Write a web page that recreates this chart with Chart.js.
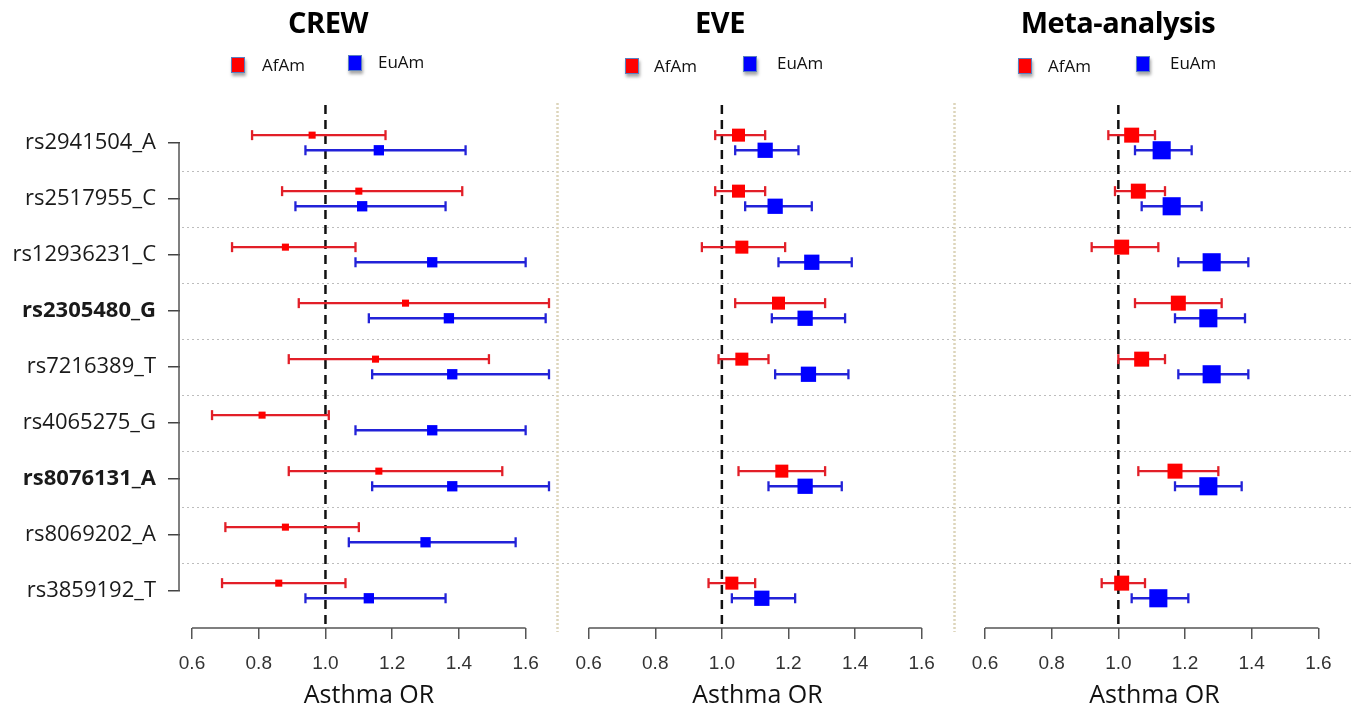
<!DOCTYPE html>
<html>
<head>
<meta charset="utf-8">
<title>Asthma OR forest plots</title>
<script src="https://cdn.jsdelivr.net/npm/chart.js@4.4.1/dist/chart.umd.min.js"></script>
<style>
    body { margin: 0; width: 1352px; height: 713px; position: relative; overflow: hidden; background: #fff;
           font-family: 'Open Sans', 'Noto Sans', sans-serif; color: #111; }
    canvas { position: absolute; top: 0; }
    .title { position: absolute; top: 2px; width: 300px; text-align: center; font-size: 29px; font-weight: bold;
             line-height: 40px; color: #000; letter-spacing: -0.5px; }
    .key { position: absolute; font-size: 17px; line-height: 22px; white-space: nowrap; }
    .key i { position: absolute; width: 12px; height: 14px; border: 1.5px solid #5b7fbf;
             box-shadow: 1px 3px 3px rgba(0, 0, 0, 0.35); }
</style>
</head>
<body>
<canvas id="crewChart" width="560" height="713" style="left:0px"></canvas>
<canvas id="eveChart" width="397" height="713" style="left:560px"></canvas>
<canvas id="metaChart" width="395" height="713" style="left:957px"></canvas>

<div class="title" style="left:178px">CREW</div>
<div class="title" style="left:570px">EVE</div>
<div class="title" style="left:968px">Meta-analysis</div>

<div class="key" style="left:231px;top:54px"><i style="left:0;top:3px;background:#ff0000"></i><span style="margin-left:31px">AfAm</span></div>
<div class="key" style="left:348px;top:51px"><i style="left:0;top:4px;background:#0000ff"></i><span style="margin-left:30px">EuAm</span></div>
<div class="key" style="left:625px;top:55px"><i style="left:0;top:3px;background:#ff0000"></i><span style="margin-left:29px">AfAm</span></div>
<div class="key" style="left:743px;top:52px"><i style="left:0;top:4px;background:#0000ff"></i><span style="margin-left:34px">EuAm</span></div>
<div class="key" style="left:1018px;top:55px"><i style="left:0;top:3px;background:#ff0000"></i><span style="margin-left:30px">AfAm</span></div>
<div class="key" style="left:1136px;top:52px"><i style="left:0;top:4px;background:#0000ff"></i><span style="margin-left:34px">EuAm</span></div>

<script>
document.addEventListener('DOMContentLoaded', function () {
    // SNPs, top to bottom; the two in bold are highlighted in the figure
    const snps = ['rs2941504_A', 'rs2517955_C', 'rs12936231_C', 'rs2305480_G', 'rs7216389_T',
                  'rs4065275_G', 'rs8076131_A', 'rs8069202_A', 'rs3859192_T'];
    const boldSnps = ['rs2305480_G', 'rs8076131_A'];
    const xTicks = [0.6, 0.8, 1.0, 1.2, 1.4, 1.6];
    const nullOR = 1.0;

    // CREW: odds ratio with lower / upper CI
    const crewAfAmOR = [0.96, 1.10, 0.88, 1.24, 1.15, 0.81, 1.16, 0.88, 0.86];
    const crewAfAmLo = [0.78, 0.87, 0.72, 0.92, 0.89, 0.66, 0.89, 0.70, 0.69];
    const crewAfAmHi = [1.18, 1.41, 1.09, 1.67, 1.49, 1.01, 1.53, 1.10, 1.06];
    const crewEuAmOR = [1.16, 1.11, 1.32, 1.37, 1.38, 1.32, 1.38, 1.30, 1.13];
    const crewEuAmLo = [0.94, 0.91, 1.09, 1.13, 1.14, 1.09, 1.14, 1.07, 0.94];
    const crewEuAmHi = [1.42, 1.36, 1.60, 1.66, 1.67, 1.60, 1.67, 1.57, 1.36];

    // EVE (two SNPs not available)
    const eveAfAmOR = [1.05, 1.05, 1.06, 1.17, 1.06, null, 1.18, null, 1.03];
    const eveAfAmLo = [0.98, 0.98, 0.94, 1.04, 0.99, null, 1.05, null, 0.96];
    const eveAfAmHi = [1.13, 1.13, 1.19, 1.31, 1.14, null, 1.31, null, 1.10];
    const eveEuAmOR = [1.13, 1.16, 1.27, 1.25, 1.26, null, 1.25, null, 1.12];
    const eveEuAmLo = [1.04, 1.07, 1.17, 1.15, 1.16, null, 1.14, null, 1.03];
    const eveEuAmHi = [1.23, 1.27, 1.39, 1.37, 1.38, null, 1.36, null, 1.22];

    // Meta-analysis
    const metaAfAmOR = [1.04, 1.06, 1.01, 1.18, 1.07, null, 1.17, null, 1.01];
    const metaAfAmLo = [0.97, 0.99, 0.92, 1.05, 1.00, null, 1.06, null, 0.95];
    const metaAfAmHi = [1.11, 1.14, 1.12, 1.31, 1.14, null, 1.30, null, 1.08];
    const metaEuAmOR = [1.13, 1.16, 1.28, 1.27, 1.28, null, 1.27, null, 1.12];
    const metaEuAmLo = [1.05, 1.07, 1.18, 1.17, 1.18, null, 1.17, null, 1.04];
    const metaEuAmHi = [1.22, 1.25, 1.39, 1.38, 1.39, null, 1.37, null, 1.21];

    const afamColor = '#ff0000', afamLine = '#e21f28';
    const euamColor = '#0000ff', euamLine = '#2222d8';
    const afamShift = -0.14, euamShift = 0.13;   // rows offsets of the two groups

    const labelFont = "'Open Sans', 'Noto Sans', sans-serif";
    const tickFont = "'Liberation Sans', Arial, sans-serif";

    // dotted row separators, panel divider, dashed OR = 1 line, R-style axis lines
    const forestLines = {
        id: 'forestLines',
        beforeDatasetsDraw(chart, args, opts) {
            const { ctx, chartArea: a, scales: { x, y } } = chart;
            ctx.save();
            ctx.strokeStyle = '#bdbdbd';
            ctx.lineWidth = 1;
            ctx.setLineDash([2, 3]);
            for (let i = 0; i < snps.length - 1; i++) {
                const py = Math.round(y.getPixelForValue(i + 0.5)) + 0.5;
                ctx.beginPath();
                ctx.moveTo(a.left + 2, py);
                ctx.lineTo(a.right, py);
                ctx.stroke();
            }
            if (opts.divider) {
                ctx.strokeStyle = '#ddd5bb';
                ctx.lineWidth = 2.5;
                ctx.setLineDash([2, 2]);
                ctx.beginPath();
                ctx.moveTo(a.right - 0.5, a.top);
                ctx.lineTo(a.right - 0.5, a.bottom + 4);
                ctx.stroke();
            }
            const px = x.getPixelForValue(nullOR);
            ctx.strokeStyle = '#111';
            ctx.lineWidth = 2.5;
            ctx.setLineDash([9, 6]);
            ctx.beginPath();
            ctx.moveTo(px, a.top + 2);
            ctx.lineTo(px, a.bottom);
            ctx.stroke();
            ctx.restore();
        },
        afterDraw(chart, args, opts) {
            const { ctx, chartArea: a, scales: { x, y } } = chart;
            ctx.save();
            ctx.strokeStyle = '#555';
            ctx.lineWidth = 1.5;
            ctx.beginPath();
            ctx.moveTo(x.getPixelForValue(xTicks[0]), a.bottom);
            ctx.lineTo(x.getPixelForValue(xTicks[xTicks.length - 1]), a.bottom);
            ctx.stroke();
            if (opts.yAxis) {
                ctx.beginPath();
                ctx.moveTo(a.left - 1, y.getPixelForValue(0));
                ctx.lineTo(a.left - 1, y.getPixelForValue(snps.length - 1));
                ctx.stroke();
            }
            ctx.restore();
        }
    };

    function markers(label, ors, shift, color, radius) {
        const pts = [];
        ors.forEach((v, i) => { if (v !== null) pts.push({ x: v, y: i + shift }); });
        return {
            label: label, data: pts, order: 0,
            pointStyle: 'rect', pointRadius: radius,
            backgroundColor: color, borderColor: color, borderWidth: 0
        };
    }

    function whiskers(lo, hi, shift, color) {
        const sets = [];
        lo.forEach((v, i) => {
            if (v === null) return;
            sets.push({
                data: [{ x: v, y: i + shift }, { x: hi[i], y: i + shift }],
                showLine: true, order: 1,
                borderColor: color, borderWidth: 2.3,
                pointStyle: 'line', rotation: 90, pointRadius: 5,
                pointBorderColor: color, pointBorderWidth: 2.3
            });
        });
        return sets;
    }

    function snpFont(ctx) {
        const bold = ctx && ctx.tick && boldSnps.includes(snps[ctx.tick.value]);
        return { family: labelFont, size: 22, weight: bold ? 'bold' : 'normal' };
    }

    function makePanel(id, afOR, afLo, afHi, euOR, euLo, euHi, xMin, xMax, afSize, euSize, first) {
        const datasets = [
            markers('AfAm', afOR, afamShift, afamColor, afSize),
            markers('EuAm', euOR, euamShift, euamColor, euSize)
        ].concat(whiskers(afLo, afHi, afamShift, afamLine), whiskers(euLo, euHi, euamShift, euamLine));

        return new Chart(document.getElementById(id).getContext('2d'), {
            type: 'scatter',
            data: { datasets: datasets },
            options: {
                responsive: false,
                animation: false,
                events: [],
                layout: {
                    autoPadding: false,
                    padding: { top: 103, right: id === 'metaChart' ? 0 : 2, left: 0, bottom: 0 }
                },
                plugins: {
                    legend: { display: false },
                    tooltip: { enabled: false },
                    forestLines: { divider: id !== 'metaChart', yAxis: first }
                },
                scales: {
                    x: {
                        type: 'linear', min: xMin, max: xMax,
                        afterBuildTicks: scale => { scale.ticks = xTicks.map(v => ({ value: v })); },
                        afterFit: scale => {
                            scale.height = 85;
                            scale.paddingLeft = 0;
                            scale.paddingRight = 0;
                        },
                        border: { display: false },
                        grid: { drawOnChartArea: false, drawTicks: true, tickLength: 11, color: '#555', lineWidth: 1.5 },
                        ticks: {
                            callback: v => v.toFixed(1),
                            autoSkip: false, maxRotation: 0, padding: 13,
                            color: '#333', font: { family: tickFont, size: 19 }
                        },
                        title: {
                            display: true, text: 'Asthma OR', color: '#111',
                            font: { family: labelFont, size: 25 }, padding: { top: 0, bottom: 2 }
                        }
                    },
                    y: {
                        type: 'linear', reverse: true, min: -0.714, max: 8.661,
                        display: first,
                        afterBuildTicks: scale => { scale.ticks = snps.map((s, i) => ({ value: i })); },
                        afterFit: scale => {
                            scale.width = first ? 180 : 0;
                            scale.paddingTop = 0;
                            scale.paddingBottom = 0;
                        },
                        border: { display: false },
                        grid: { drawOnChartArea: false, drawTicks: true, tickLength: 12, color: '#444', lineWidth: 1.5 },
                        ticks: {
                            callback: v => snps[v],
                            autoSkip: false, padding: 12, color: '#1a1a1a',
                            font: snpFont
                        }
                    }
                }
            },
            plugins: [forestLines]
        });
    }

    makePanel('crewChart', crewAfAmOR, crewAfAmLo, crewAfAmHi, crewEuAmOR, crewEuAmLo, crewEuAmHi,
              0.564, 1.697, 5, 7.3, true);
    makePanel('eveChart', eveAfAmOR, eveAfAmLo, eveAfAmHi, eveEuAmOR, eveEuAmLo, eveEuAmHi,
              0.514, 1.700, 9.2, 10.8, false);
    makePanel('metaChart', metaAfAmOR, metaAfAmLo, metaAfAmHi, metaEuAmOR, metaEuAmLo, metaEuAmHi,
              0.516, 1.701, 10.6, 12.8, false);
});
</script>
</body>
</html>
